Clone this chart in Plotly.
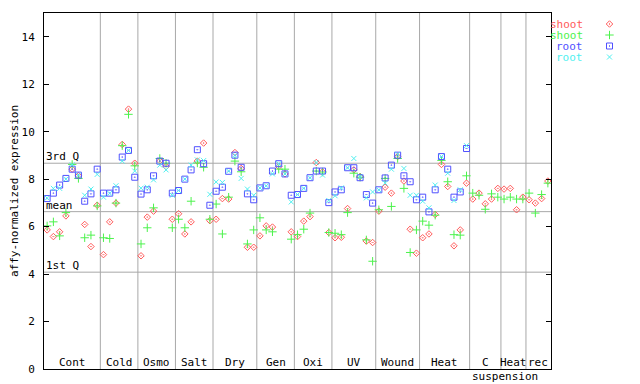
import plotly.graph_objects as go

# ---------------- data ----------------
groups = ["Cont", "Cold", "Osmo", "Salt", "Dry", "Gen", "Oxi", "UV", "Wound", "Heat", "C", "Heat", "rec"]
group_sizes = [9, 6, 6, 6, 7, 6, 6, 7, 7, 8, 5, 4, 4]

shoot_a = [5.86, 5.58, 5.78, 6.45, 8.42, 8.14, 6.09, 5.16, 6.90,
           4.82, 6.20, 6.99, 9.46, 10.95, 8.67,
           4.77, 6.40, 6.65, 8.76, 8.53, 6.31,
           6.54, 5.69, 6.20, 8.76, 9.52, 6.25,
           6.31, 7.18, 7.16, 9.12, 8.45, 5.13, 5.13,
           5.61, 6.03, 5.98, 8.53, 8.22, 5.78,
           5.58, 6.23, 6.42, 8.70, 8.30, 5.75,
           5.53, 5.55, 6.76, 8.39, 8.11, 5.39, 5.33,
           6.65, 7.66, 7.41, 8.95, 7.92, 5.89, 4.88,
           5.53, 5.69, 6.51, 8.62, 7.69, 5.19, 5.86, 7.83,
           7.16, 7.41, 6.96, 7.16, 7.61,
           7.58, 7.61, 6.71, 7.24,
           7.13, 6.99, 7.18, 7.92]
shoot_b = [6.03, 6.20, 5.61, 6.59, 8.62, 8.03, 5.53, 5.64, 6.87,
           5.53, 5.50, 6.99, 9.41, 10.73, 8.56,
           5.27, 5.95, 6.79, 8.87, 8.67, 5.95,
           6.31, 5.95, 7.07, 8.68, 8.50, 6.31,
           6.95, 5.69, 7.24, 8.76, 8.31, 5.27, 5.86,
           6.37, 5.86, 5.78, 8.42, 8.42, 5.47,
           5.66, 5.89, 6.57, 8.34, 8.30, 5.75,
           5.72, 5.66, 6.59, 8.25, 8.08, 5.44, 4.54,
           6.71, 8.03, 6.85, 8.87, 7.61, 4.91, 5.86,
           6.23, 6.06, 6.48, 8.79, 7.89, 5.66, 5.64, 8.14,
           7.41, 7.32, 6.73, 7.38, 7.24,
           7.16, 7.24, 7.16, 7.16,
           7.41, 6.57, 7.35, 7.83]
root_a = [7.18, 7.41, 7.75, 8.03, 8.42, 8.17, 7.07, 7.38, 8.42,
          7.41, 7.41, 7.55, 8.93, 9.21, 8.08,
          7.37, 7.55, 8.14, 8.76, 8.67, 7.41,
          7.52, 8.00, 8.39, 9.24, 8.65, 6.90,
          7.49, 7.66, 8.33, 9.01, 8.50, 7.38, 7.13,
          7.63, 7.72, 8.34, 8.65, 8.22, 7.32,
          7.35, 7.61, 8.06, 8.34, 8.34, 7.01,
          7.46, 7.55, 8.48, 8.48, 8.06, 7.35, 6.99,
          7.55, 8.05, 8.59, 9.01, 8.14, 7.89, 7.13,
          7.24, 6.62, 7.55, 8.95, 8.42, 7.24, 7.46, 9.29,
          None, None, None, None, None,
          None, None, None, None,
          None, None, None, None]
root_b = [7.20, 7.61, 7.61, 8.00, 8.60, 8.17, 7.32, 7.58, 8.20,
          7.24, 7.40, 7.72, 8.76, 9.21, 8.34,
          7.62, 7.66, 7.97, 8.59, 8.39, 7.32,
          7.52, 8.00, 8.59, 8.81, 8.78, 7.36,
          7.88, 7.86, 8.34, 9.00, 8.03, 7.58, 7.32,
          7.63, 7.72, 8.22, 8.65, 8.22, 7.04,
          7.35, 7.61, 8.06, 8.70, 8.17, 7.10,
          7.30, 7.63, 8.48, 8.87, 8.10, 7.21, 7.46,
          7.55, 7.83, 8.42, 9.05, 8.45, 7.32, 7.32,
          7.07, 6.79, 7.75, 8.95, 8.25, 7.10, 7.55, 9.41,
          None, None, None, None, None,
          None, None, None, None,
          None, None, None, None]

q1, mean_v, q3 = 4.08, 6.63, 8.67
y_ticks = [0, 2, 4, 6, 8, 10, 12, 14]

series_names = ["shoot", "shoot", "root", "root"]
series_colors = ["#ff5a5a", "#4cf24c", "#5050ff", "#50f0f0"]
series_symbols = ["diamond-open-dot", "cross-thin-open", "square-open-dot", "x-thin-open"]
series_sizes = [5, 6, 6, 5]

# ---------------- figure ----------------
FONT = "DejaVu Sans Mono"
n = len(shoot_a)
xs = list(range(n))
fig = go.Figure()

for vals, name, col, sym, sz in zip([shoot_a, shoot_b, root_a, root_b], series_names,
                                    series_colors, series_symbols, series_sizes):
    fig.add_trace(go.Scatter(x=xs, y=vals, mode="markers", name=name, showlegend=False,
                             marker=dict(symbol=sym, size=sz, color=col,
                                         line=dict(color=col, width=1))))

# page body has an 8px margin: the figure is sized so that it ends at the window edge
OFF = 8
W, H = 640 - OFF, 384 - OFF
L, T, B = 44 - OFF, 13 - OFF, 384 - 369
main_right = 551 - OFF
dom = (main_right - L) / (W - L)

# legend (text then symbol), drawn on an overlay axis spanning the right margin
leg_rows = [24 - OFF, 35 - OFF, 46 - OFF, 57 - OFF]
for i, (name, col, sym, sz) in enumerate(zip(series_names, series_colors, series_symbols, series_sizes)):
    fig.add_trace(go.Scatter(x=[609.5 - OFF], y=[leg_rows[i]], xaxis="x2", yaxis="y2", mode="markers",
                             showlegend=False, hoverinfo="skip",
                             marker=dict(symbol=sym, size=sz, color=col, line=dict(color=col, width=1))))
    fig.add_annotation(xref="x2", yref="y2", x=585 - OFF, y=leg_rows[i], text=name, showarrow=False,
                       xanchor="right", yanchor="middle",
                       font=dict(family=FONT, size=11, color=col))

shapes = []
bounds = []
acc = 0
for s in group_sizes:
    acc += s
    bounds.append(acc - 0.5)
for b in bounds[:-1]:
    shapes.append(dict(type="line", xref="x", yref="y", x0=b, x1=b, y0=0, y1=15,
                       line=dict(color="#a8a8a8", width=1), layer="below"))
for v in [q1, mean_v, q3]:
    shapes.append(dict(type="line", xref="x", yref="y", x0=-0.5, x1=n - 0.5, y0=v, y1=v,
                       line=dict(color="#a8a8a8", width=1), layer="below"))

annos = []
for v, t in [(q3, "3rd Q"), (mean_v, "mean"), (q1, "1st Q")]:
    annos.append(dict(xref="x", yref="y", x=-0.5, y=v, text=t, showarrow=False,
                      xanchor="left", yanchor="bottom", xshift=0, yshift=-2,
                      font=dict(family=FONT, size=11, color="black")))
start = -0.5
for g, s in zip(groups, group_sizes):
    c = start + s / 2
    annos.append(dict(xref="x", yref="y", x=c, y=0, text=g, showarrow=False,
                      xanchor="center", yanchor="bottom", yshift=-2,
                      font=dict(family=FONT, size=11, color="black")))
    if g == "C":
        annos.append(dict(xref="x", yref="y", x=start, y=0, text="suspension", showarrow=False,
                          xanchor="left", yanchor="top", yshift=1,
                          font=dict(family=FONT, size=11, color="black")))
    start += s

for a in annos:
    fig.add_annotation(**a)

fig.update_layout(
    width=W, height=H,
    margin=dict(l=L, r=0, t=T, b=B, pad=0),
    plot_bgcolor="white", paper_bgcolor="white",
    shapes=shapes,
    showlegend=False,
    font=dict(family=FONT, size=11, color="black"),
    xaxis=dict(domain=[0, dom], range=[-0.5, n - 0.5], showgrid=False, zeroline=False,
               showticklabels=False, ticks="", showline=True, linecolor="black",
               linewidth=1, mirror=True),
    yaxis=dict(range=[0, 15], tickvals=y_ticks, showgrid=False, zeroline=False,
               ticks="inside", ticklen=5, tickcolor="black", showline=True, linecolor="black",
               linewidth=1, mirror="ticks", ticklabelstandoff=6,
               tickfont=dict(family=FONT, size=11, color="black"),
               title=dict(text="affy-normalized expression", standoff=3,
                          font=dict(family=FONT, size=11, color="black"))),
    xaxis2=dict(domain=[dom, 1], range=[main_right, W], visible=False, anchor="y2"),
    yaxis2=dict(domain=[0, 1], range=[H - B, T], visible=False, anchor="x2"),
)

fig.write_html("out.html")
